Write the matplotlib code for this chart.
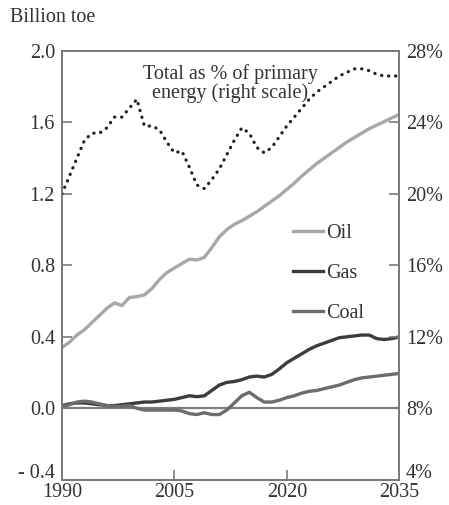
import numpy as np
import matplotlib.pyplot as plt
from matplotlib.ticker import FuncFormatter
import matplotlib.transforms as mtransforms

plt.rcParams['font.family'] = ['Liberation Serif', 'DejaVu Serif']

years = np.arange(1990, 2036)

# Billion toe, left scale
oil = [0.34, 0.37, 0.41, 0.44, 0.48, 0.52, 0.56, 0.59, 0.575, 0.62,
       0.625, 0.635, 0.67, 0.72, 0.76, 0.785, 0.81, 0.835, 0.83, 0.845,
       0.90, 0.96, 1.00, 1.03, 1.05, 1.075, 1.10, 1.13, 1.16, 1.19,
       1.225, 1.26, 1.30, 1.335, 1.37, 1.40, 1.43, 1.46, 1.49, 1.515,
       1.54, 1.565, 1.585, 1.605, 1.625, 1.645]
gas = [0.015, 0.025, 0.03, 0.03, 0.025, 0.02, 0.015, 0.015, 0.02, 0.025,
       0.03, 0.035, 0.035, 0.04, 0.045, 0.05, 0.06, 0.07, 0.065, 0.07,
       0.10, 0.13, 0.145, 0.15, 0.16, 0.175, 0.18, 0.175, 0.19, 0.22,
       0.255, 0.28, 0.305, 0.33, 0.35, 0.365, 0.38, 0.395, 0.40, 0.405,
       0.41, 0.41, 0.39, 0.385, 0.39, 0.40]
coal = [0.01, 0.02, 0.035, 0.04, 0.035, 0.025, 0.015, 0.01, 0.01, 0.015,
        0.0, -0.01, -0.01, -0.01, -0.01, -0.01, -0.015, -0.03, -0.035, -0.025,
        -0.035, -0.035, -0.01, 0.03, 0.07, 0.09, 0.06, 0.035, 0.035, 0.045,
        0.06, 0.07, 0.085, 0.095, 0.10, 0.11, 0.12, 0.13, 0.145, 0.16,
        0.17, 0.175, 0.18, 0.185, 0.19, 0.195]

# Total as % of primary energy, right scale
total_pct = [20.0, 21.0, 22.0, 23.0, 23.4, 23.4, 23.7, 24.3, 24.3, 24.8,
             25.3, 23.8, 23.8, 23.6, 22.9, 22.3, 22.4, 21.5, 20.5, 20.3,
             20.8, 21.4, 22.2, 23.0, 23.7, 23.4, 22.6, 22.3, 22.6, 23.2,
             23.8, 24.3, 24.8, 25.3, 25.7, 26.0, 26.3, 26.6, 26.8, 27.0,
             27.0, 26.9, 26.7, 26.6, 26.6, 26.6]

left_ticks = [-0.4, 0.0, 0.4, 0.8, 1.2, 1.6, 2.0]
left_labels = ['- 0.4', '0.0', '0.4', '0.8', '1.2', '1.6', '2.0']
right_ticks = [4, 8, 12, 16, 20, 24, 28]
x_ticks = [1990, 2005, 2020, 2035]

spine_col = '#7a7a7a'
txt_col = '#333333'
fs = 14.5

fig = plt.figure(figsize=(4.49, 5.05), dpi=100)
ax = fig.add_axes([0.138, 0.05, 0.751, 0.849])
ax2 = ax.twinx()

ax.axhline(0, color='#7f7f7f', lw=1.6, zorder=1)
ax.plot(years, oil, color='#a8a8a8', lw=2.4, label='Oil', zorder=3)
ax.plot(years, gas, color='#3c3c3c', lw=2.4, label='Gas', zorder=3)
ax.plot(years, coal, color='#6c6c6c', lw=2.4, label='Coal', zorder=3)
ax2.plot(years, total_pct, color='#222222', lw=2.3, linestyle=(0, (0.1, 2.1)),
         dash_capstyle='round')

ax.set_xlim(1990, 2035)
ax.set_ylim(-0.4, 2.0)
ax2.set_ylim(4, 28)
ax.set_xticks(x_ticks)
ax.set_yticks(left_ticks)
ax.set_yticklabels(left_labels)
ax2.set_yticks(right_ticks)
ax2.yaxis.set_major_formatter(FuncFormatter(lambda v, p: f'{v:.0f}%'))

for a in (ax, ax2):
    for s in a.spines.values():
        s.set_color(spine_col)
        s.set_linewidth(1.3)
    a.tick_params(direction='in', length=7, width=1.2, color=spine_col,
                  labelsize=fs, labelcolor=txt_col)
ax.tick_params(axis='y', pad=5)
ax.tick_params(axis='x', pad=2)
ax2.tick_params(axis='y', pad=5)

# lift the lowest y labels a little so they clear the year labels
fig.canvas.draw()
lift = mtransforms.ScaledTranslation(0, 6 / 72, fig.dpi_scale_trans)
for lbl in (ax.get_yticklabels()[0], ax2.get_yticklabels()[0]):
    lbl.set_transform(lbl.get_transform() + lift)

ax.text(0.5, 0.97, 'Total as % of primary\nenergy (right scale)',
        transform=ax.transAxes, ha='center', va='top', fontsize=fs,
        color=txt_col, linespacing=0.95)

leg = ax.legend(loc='upper left', bbox_to_anchor=(0.63, 0.64),
                frameon=False, fontsize=fs, handlelength=1.5,
                handletextpad=0.15, labelspacing=1.05)
for t in leg.get_texts():
    t.set_color(txt_col)

fig.text(0.022, 0.965, 'Billion toe', fontsize=fs, color=txt_col,
         ha='left', va='center')

fig.savefig('out.png', dpi=100)
